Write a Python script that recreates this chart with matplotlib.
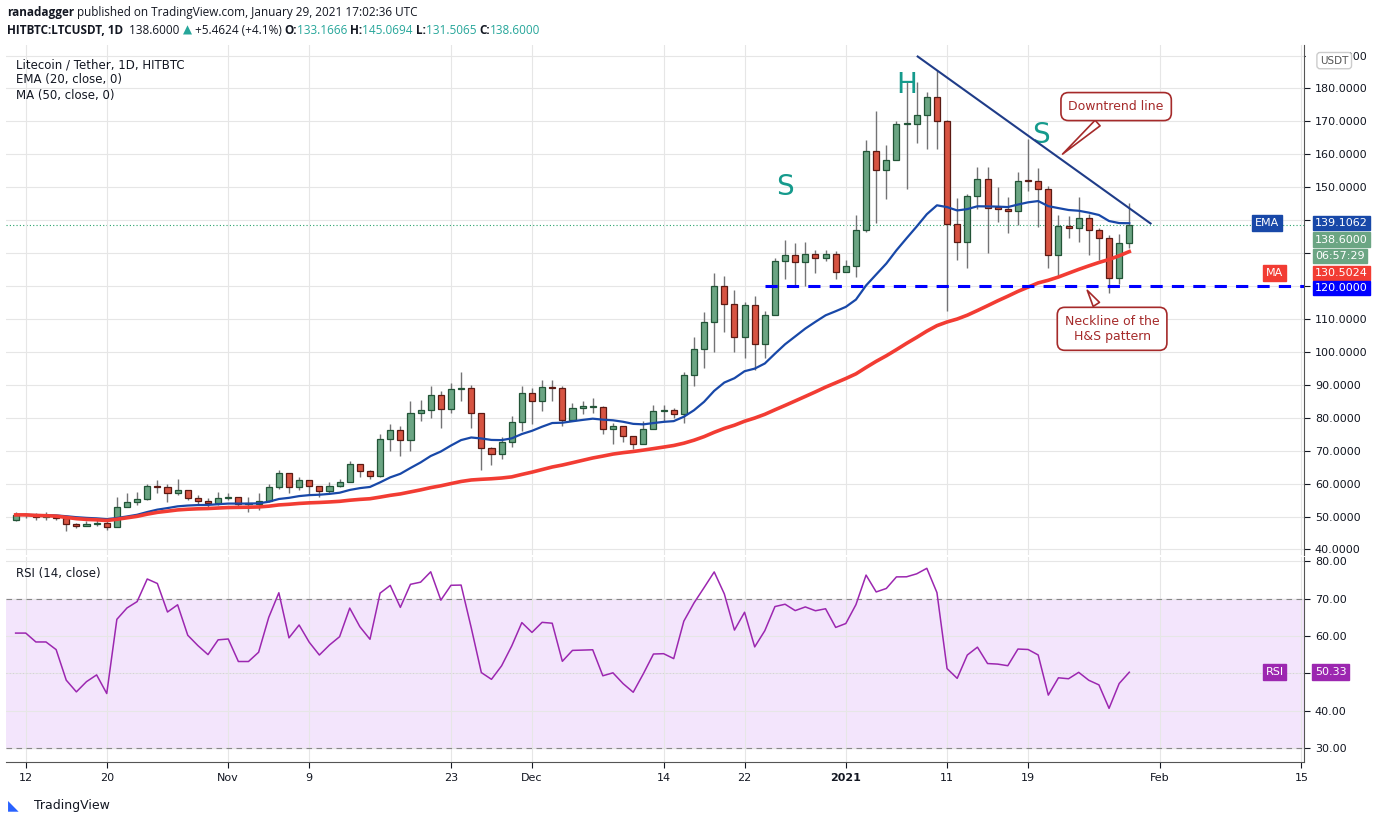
import matplotlib
matplotlib.use("Agg")
import matplotlib.pyplot as plt
import matplotlib.transforms as mtrans
import numpy as np
import pandas as pd

closes = [50.5,50.5,50,50,49.6,47.8,47,47.6,48,46.8,
          53,54.5,55.4,59.3,59,57,58.1,55.7,54.8,54,
          55.7,55.8,53.9,53.9,54.8,59,63.3,59,61.2,59.3,
          57.8,59.3,60.6,66,63.9,62.4,73.6,76.3,73.3,81.5,
          82.4,87,82.7,88.8,88.9,81.5,70.9,69.0,72.7,78.8,
          87.6,85.2,89.2,89,79.4,83.1,83.2,83.3,76.6,77.4,
          74.5,72.1,76.6,82.1,82.2,81.1,93.0,100.9,109.2,119.9,
          114.6,104.5,114.3,102.4,111.3,127.7,129.5,127.3,129.8,128.6,
          129.8,124.2,126.2,136.9,160.9,155.3,158.3,169.1,169.2,172,
          177.3,170.2,138.8,133.3,147.2,152.4,143.8,143.5,142.7,152.0,
          151.8,149.5,129.5,138.1,137.6,140.7,136.9,134.7,122.4,133.17,138.6]
opens = [49.0] + closes[:-1]
highs = [51.5,51,51,51.5,50,50,48,48.5,49,49,
         56,57,57.5,60,61,60,61.5,58,56.5,55.5,
         57.5,57,56,56,57,60,64,62.5,62,60,
         58.5,60.5,61.5,67,65,64,75,78,77.5,85,
         85.5,89.5,88,90.5,94,90,73.5,71,74,80.5,
         89.5,89,91.5,91.5,89.5,84.5,85,86,83.5,78.5,
         75.5,74,79,84,84,83,94,104.5,112,124,
         123,118.7,115,117.1,112.3,128.6,134,133,133.5,131,
         131,130.5,128,141.7,164.4,173.3,162.7,170,181.9,182.1,
         179,185.5,170.5,146.6,148,156,156,150,147,154.6,
         164.7,155.8,150.5,141.6,141.2,147,141.8,137.5,135.5,135.9,145.07]
lows = [48.5,49.5,49,49,49,45.5,46.5,47,47,46,
        46.8,53,53.5,55,57,54.5,56.5,55,53.5,53,
        53.5,55,53,51.5,52,54.5,58.5,57,58,56.5,
        56,57,59,60.5,62,61.5,62,70,68.5,70,
        79,80,77,81.5,85,77,64,65.5,67.5,71,
        76,78,82,85,77.5,79.5,81,81.5,75,72,
        72.5,70.5,72,76.5,79,80,78.5,89.5,95,100,
        106,100,98,94.5,98,114,122,120,120,124,
        127.5,122,125,122.7,136.5,139,146.5,162,149.5,163.5,
        161.7,161.5,112.5,128,125.5,143.4,130,139.5,136,138.5,
        149,138,125.5,123,134.5,133.5,129.5,128,117.9,120.7,131.51]

x_ticks = [1, 9, 21, 29, 43, 51, 64, 72, 82, 92, 100, 113, 127]
x_labels = ["12", "20", "Nov", "9", "23", "Dec", "14", "22", "2021", "11", "19", "Feb", "15"]
price_ticks = [40, 50, 60, 70, 80, 90, 100, 110, 120, 130, 140, 150, 160, 170, 180, 190]
rsi_ticks = [30, 40, 50, 60, 70, 80]

s = pd.Series(closes)
ema20 = s.ewm(span=20, adjust=False).mean()
ma50 = s.rolling(50, min_periods=1).mean()
avg_up, avg_dn = 0.62, 0.40
rsi_vals = [100 - 100 / (1 + avg_up / avg_dn)]
for i in range(1, len(closes)):
    ch = closes[i] - closes[i - 1]
    avg_up = (avg_up * 13 + max(ch, 0)) / 14
    avg_dn = (avg_dn * 13 + max(-ch, 0)) / 14
    rsi_vals.append(100 - 100 / (1 + avg_up / avg_dn))
rsi = pd.Series(rsi_vals)

GREEN, GEDGE = "#6ba583", "#225437"
RED, REDGE = "#d75442", "#5b1a13"
GRID = "#e6e6e6"

fig = plt.figure(figsize=(13.76, 8.24), dpi=100)
ax = fig.add_axes([0.004, 0.326, 0.944, 0.619])
ax2 = fig.add_axes([0.004, 0.075, 0.944, 0.249], sharex=ax)

idx = np.arange(len(closes))
for i in idx:
    o, c, h, l = opens[i], closes[i], highs[i], lows[i]
    up_ = c >= o
    ax.vlines(i, l, h, color="#737375", lw=1, zorder=2)
    hgt = max(abs(c - o), 0.35)
    ax.bar(i, hgt, bottom=min(o, c), width=0.6, color=GREEN if up_ else RED,
           edgecolor=GEDGE if up_ else REDGE, lw=0.9, zorder=3)

ax.plot(idx, ema20, color="#1848a8", lw=1.6, zorder=4)
ax.plot(idx, ma50, color="#f23c33", lw=2.6, zorder=4)
ax.axhline(138.6, color="#26a269", ls=(0, (1, 2)), lw=0.8, zorder=1)
ax.plot([74, 127.3], [120, 120], color="#0000ff", ls=(0, (4, 3)), lw=2.2, zorder=5)
ax.plot([89.1, 112.1], [189.7, 139.0], color="#1f3c88", lw=1.5, zorder=5)

ax.text(88, 181, "H", color="#159a8c", fontsize=20, ha="center", va="center")
ax.text(76, 150, "S", color="#159a8c", fontsize=20, ha="center", va="center")
ax.text(101.3, 166, "S", color="#159a8c", fontsize=20, ha="center", va="center")
bb = dict(boxstyle="round,pad=0.6", fc="white", ec="#a52a2a", lw=1.2)
ax.annotate("Downtrend line", xy=(103.2, 159.5), xytext=(108.7, 174.5), color="#a52a2a",
            fontsize=9, ha="center", va="center", bbox=bb,
            arrowprops=dict(arrowstyle="wedge,tail_width=0.6", fc="white", ec="#a52a2a", lw=1.2))
ax.annotate("Neckline of the\nH&S pattern", xy=(105.7, 119.4), xytext=(108.3, 107.0),
            color="#a52a2a", fontsize=9, ha="center", va="center", bbox=bb,
            arrowprops=dict(arrowstyle="wedge,tail_width=0.6", fc="white", ec="#a52a2a", lw=1.2))

ax.set_xlim(-1, 127.3)
ax.set_ylim(38.2, 193.1)
ax.set_xticks(x_ticks)
ax.set_yticks(price_ticks)
ax.set_yticklabels([f"{v:.4f}" for v in price_ticks])
ax.yaxis.tick_right()
ax.tick_params(axis="y", labelsize=8, length=4, colors="#131722")
ax.tick_params(axis="x", labelbottom=False, length=0)
ax.grid(True, color=GRID, lw=0.8)
for sp in ["top", "left", "bottom"]:
    ax.spines[sp].set_visible(False)
ax.spines["right"].set_color("#555")

tr = mtrans.blended_transform_factory(ax.transAxes, ax.transData)
def lab(y, txt, fc, tc="white"):
    ax.text(1.008, y, txt, transform=tr, fontsize=8, color=tc, va="center", ha="left",
            bbox=dict(boxstyle="square,pad=0.2", fc=fc, ec=fc), clip_on=False, zorder=10)
lab(139.1062, "139.1062", "#1848a8")
lab(134.1, "138.6000", "#6ba583")
lab(129.1, "06:57:29", "#6ba583")
lab(123.9, "130.5024", "#f23c33")
lab(119.4, "120.0000", "#0000ff")
ax.text(0.962, 139.1, "EMA", transform=tr, fontsize=8, color="white", va="center",
        bbox=dict(boxstyle="square,pad=0.25", fc="#1848a8", ec="#1848a8"), zorder=10)
ax.text(0.97, 123.9, "MA", transform=tr, fontsize=8, color="white", va="center",
        bbox=dict(boxstyle="square,pad=0.25", fc="#f23c33", ec="#f23c33"), zorder=10)
ax.text(1.004, 0.97, "          ", transform=ax.transAxes, fontsize=8, va="center",
        bbox=dict(boxstyle="square,pad=0.35", fc="white", ec="white"), clip_on=False, zorder=19)
ax.text(1.012, 0.97, "USDT", transform=ax.transAxes, fontsize=7.5, color="#555", va="center",
        bbox=dict(boxstyle="round,pad=0.3", fc="white", ec="#ccc"), clip_on=False, zorder=20)

ax.text(0.008, 0.975, "Litecoin / Tether, 1D, HITBTC", transform=ax.transAxes, fontsize=8.5, color="#131722", va="top")
ax.text(0.008, 0.945, "EMA (20, close, 0)", transform=ax.transAxes, fontsize=8.5, color="#131722", va="top")
ax.text(0.008, 0.915, "MA (50, close, 0)", transform=ax.transAxes, fontsize=8.5, color="#131722", va="top")

# RSI
ax2.axhspan(30, 70, color="#f3e5fc", zorder=0)
for yv in (30, 70):
    ax2.axhline(yv, color="#888", ls=(0, (5, 4)), lw=0.8)
ax2.axhline(50, color="#cfc0d8", ls=(0, (1, 3)), lw=0.6)
ax2.plot(idx, rsi, color="#9c27b0", lw=1.1)
ax2.set_ylim(26.3, 81.1)
ax2.set_yticks(rsi_ticks)
ax2.set_yticklabels([f"{v:.2f}" for v in rsi_ticks])
ax2.yaxis.tick_right()
ax2.tick_params(axis="y", labelsize=8, length=4, colors="#131722")
ax2.set_xticks(x_ticks)
ax2.set_xticklabels(x_labels)
ax2.tick_params(axis="x", labelsize=8, length=4, colors="#131722")
for t in ax2.get_xticklabels():
    if t.get_text() == "2021":
        t.set_fontweight("bold")
ax2.grid(True, color=GRID, lw=0.8)
for sp in ["top", "left"]:
    ax2.spines[sp].set_visible(False)
ax2.spines["right"].set_color("#555")
ax2.spines["bottom"].set_color("#555")
tr2 = mtrans.blended_transform_factory(ax2.transAxes, ax2.transData)
ax2.text(1.008, float(rsi.iloc[-1]), f"{rsi.iloc[-1]:.2f}", transform=tr2, fontsize=8, color="white",
         va="center", bbox=dict(boxstyle="square,pad=0.25", fc="#9c27b0", ec="#9c27b0"), clip_on=False)
ax2.text(0.97, float(rsi.iloc[-1]), "RSI", transform=tr2, fontsize=8, color="white", va="center",
         bbox=dict(boxstyle="square,pad=0.25", fc="#9c27b0", ec="#9c27b0"))
ax2.text(0.008, 0.95, "RSI (14, close)", transform=ax2.transAxes, fontsize=8.5, color="#131722", va="top")

renderer = fig.canvas.get_renderer()
def pieces(y, parts, x0=7):
    x = x0
    for txt, col, bold in parts:
        t = fig.text(x / 1376, y, txt, fontsize=8.5, color=col, va="center",
                     fontweight="bold" if bold else "normal", family=["Open Sans", "DejaVu Sans"])
        x += t.get_window_extent(renderer).width
DK = "#131722"; TL = "#26a69a"
pieces(0.985, [("ranadagger", DK, True), (" published on TradingView.com, January 29, 2021 17:02:36 UTC", DK, False)])
pieces(0.963, [("HITBTC:LTCUSDT, 1D", DK, True), ("  138.6000 ", DK, False), ("▲", TL, False),
               (" +5.4624 (+4.1%) ", DK, False), ("O:", DK, True), ("133.1666 ", TL, False),
               ("H:", DK, True), ("145.0694 ", TL, False), ("L:", DK, True), ("131.5065 ", TL, False),
               ("C:", DK, True), ("138.6000", TL, False)])
fig.text(0.025, 0.023, "TradingView", fontsize=9, color="#131722", va="center")
fig.text(0.006, 0.023, "◣", fontsize=10, color="#2962ff", va="center")

fig.savefig("out.png", dpi=100, facecolor="white")
